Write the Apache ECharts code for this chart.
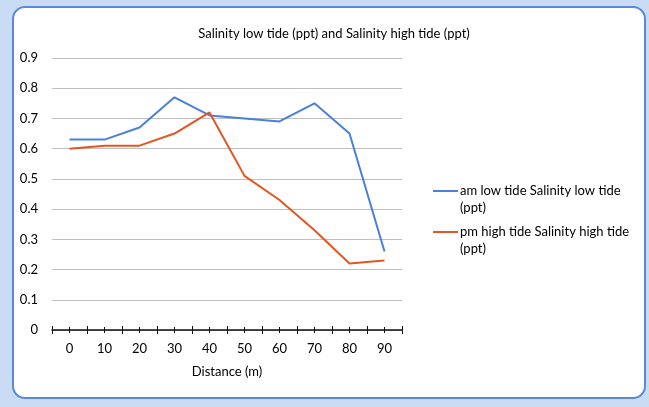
<!DOCTYPE html>
<html>
<head>
<meta charset="utf-8">
<script src="https://cdn.jsdelivr.net/npm/echarts@6/dist/echarts.min.js"></script>
<style>
  html, body { margin: 0; padding: 0; background: #c9dcf3; }
  #frame {
    position: absolute; left: 12px; top: 6px; width: 630px; height: 389px;
    border: 2px solid #5b88d8; border-radius: 13px; background: #ffffff;
  }
  #chart { position: absolute; left: 0; top: 0; width: 649px; height: 407px; }
</style>
</head>
<body>
<div id="frame"></div>
<div id="chart"></div>
<script>
// distance along transect (m)
const distances = ['0', '10', '20', '30', '40', '50', '60', '70', '80', '90'];
// salinity readings (ppt)
const amLowTide = [0.63, 0.63, 0.67, 0.77, 0.71, 0.70, 0.69, 0.75, 0.65, 0.26];
const pmHighTide = [0.60, 0.61, 0.61, 0.65, 0.72, 0.51, 0.43, 0.33, 0.22, 0.23];

const seriesNames = [
    'am low tide Salinity low tide (ppt)',
    'pm high tide Salinity high tide (ppt)'
];
const colors = ['#4a7fdc', '#e4561f'];
const fontName = 'Lato';

let chart = echarts.init(document.getElementById('chart'), null, { renderer: 'canvas' });

// extra overlay axes only used to draw the ticks on both sides of the axis line
function tickAxis(inside, alignWithLabel, length) {
    return {
        type: 'category',
        data: distances,
        boundaryGap: true,
        position: 'bottom',
        axisLine: { show: false },
        axisLabel: { show: false },
        splitLine: { show: false },
        axisTick: {
            show: true, inside: inside, alignWithLabel: alignWithLabel, length: length,
            lineStyle: { color: '#111', width: 1 }
        }
    };
}

let option = {
    backgroundColor: 'transparent',
    animation: false,
    textStyle: { fontFamily: fontName },
    title: {
        text: 'Salinity low tide (ppt) and Salinity high tide (ppt)',
        left: 329,
        textAlign: 'center',
        top: 22,
        textStyle: { fontFamily: fontName, fontSize: 13, fontWeight: 'normal', color: '#000' }
    },
    legend: {
        orient: 'vertical',
        left: 428,
        top: 177,
        itemGap: 7,
        itemWidth: 25,
        itemHeight: 18.2,
        // line at top of the icon box so it sits beside the first text line
        icon: 'path://M0,0H25V2H0Z M0,18.1H0.1V18.2H0Z',
        data: seriesNames,
        formatter: function (name) {
            return name.replace(' (ppt)', '\n(ppt)');
        },
        textStyle: { fontFamily: fontName, fontSize: 13, color: '#000', lineHeight: 17, padding: [0, 0, 0, -3] }
    },
    grid: {
        left: 52,
        right: 247,
        top: 58,
        bottom: 77
    },
    xAxis: [
        {
            type: 'category',
            data: distances,
            boundaryGap: true,
            name: 'Distance (m)',
            nameLocation: 'middle',
            nameGap: 35,
            nameTextStyle: { fontFamily: fontName, fontSize: 13, color: '#000' },
            axisLine: { show: true, lineStyle: { color: '#111', width: 1.5 } },
            axisTick: { show: true, length: 4, lineStyle: { color: '#111', width: 1 } },
            axisLabel: { margin: 12, fontFamily: fontName, fontSize: 13, color: '#000' },
            splitLine: { show: false }
        },
        tickAxis(true, false, 4),
        tickAxis(false, true, 3),
        tickAxis(true, true, 3)
    ],
    yAxis: {
        type: 'value',
        min: 0,
        max: 0.9,
        interval: 0.1,
        axisLine: { show: false },
        axisTick: { show: false },
        axisLabel: {
            margin: 14,
            fontFamily: fontName,
            fontSize: 13,
            color: '#000',
            formatter: function (v) { return v === 0 ? '0' : v.toFixed(1); }
        },
        splitLine: { show: true, lineStyle: { color: '#bfbfbf', width: 1 } }
    },
    series: [
        {
            name: seriesNames[0],
            type: 'line',
            data: amLowTide,
            xAxisIndex: 0,
            symbol: 'none',
            lineStyle: { color: colors[0], width: 2 },
            itemStyle: { color: colors[0] }
        },
        {
            name: seriesNames[1],
            type: 'line',
            data: pmHighTide,
            xAxisIndex: 0,
            symbol: 'none',
            lineStyle: { color: colors[1], width: 2 },
            itemStyle: { color: colors[1] }
        }
    ]
};

chart.setOption(option, true);
</script>
</body>
</html>
